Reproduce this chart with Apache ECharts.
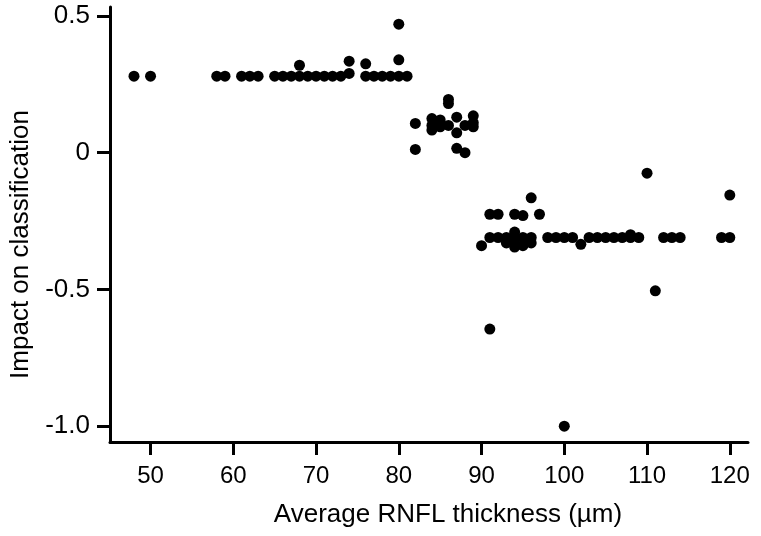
<!DOCTYPE html>
<html>
<head>
<meta charset="utf-8">
<script src="https://cdn.jsdelivr.net/npm/echarts@6/dist/echarts.min.js"></script>
<style>html,body{margin:0;padding:0;background:#fff}#c{width:761px;height:536px}</style>
</head>
<body>
<div id="c"></div>
<script>
// Average RNFL thickness (µm)
const thickness = [
  48, 50, 58, 59, 61, 62, 63, 65, 66, 67, 68, 68, 69, 70, 71, 72, 73, 74, 74,
  76, 76, 77, 78, 79, 80, 80, 80, 81,
  82, 82, 84, 84, 84, 85, 85, 86, 86, 86, 87, 87, 87, 88, 88, 89, 89, 89,
  90, 91, 91, 91, 92, 92, 93, 93, 94, 94, 94, 94, 94, 95, 95, 95, 96, 96, 96, 97,
  98, 99, 100, 100, 101, 102, 103, 104, 105, 106, 107, 108, 108, 109,
  110, 111, 112, 113, 114, 119, 120, 120
];
// Impact on classification
const impact = [
  0.28, 0.28, 0.28, 0.28, 0.28, 0.28, 0.28, 0.28, 0.28, 0.28, 0.28, 0.32, 0.28, 0.28, 0.28, 0.28, 0.28, 0.335, 0.29,
  0.28, 0.325, 0.28, 0.28, 0.28, 0.28, 0.34, 0.47, 0.28,
  0.107, 0.012, 0.125, 0.10, 0.083, 0.12, 0.095, 0.195, 0.18, 0.10, 0.13, 0.073, 0.016, 0.10, 0.0, 0.135, 0.11, 0.095,
  -0.34, -0.31, -0.225, -0.645, -0.31, -0.225, -0.31, -0.33, -0.29, -0.31, -0.33, -0.345, -0.225, -0.31, -0.34, -0.23, -0.31, -0.33, -0.165, -0.225,
  -0.31, -0.31, -0.31, -1.0, -0.31, -0.335, -0.31, -0.31, -0.31, -0.31, -0.31, -0.31, -0.30, -0.31,
  -0.075, -0.505, -0.31, -0.31, -0.31, -0.31, -0.31, -0.155
];
const xTicks = [50, 60, 70, 80, 90, 100, 110, 120];
const yTicks = [-1.0, -0.5, 0, 0.5];
const yTickLabels = ['-1.0', '-0.5', '0', '0.5'];

const points = thickness.map((x, i) => [x, impact[i]]);
const font = '"Liberation Sans", Arial, sans-serif';

const chart = echarts.init(document.getElementById('c'), null, {renderer: 'canvas'});
chart.setOption({
  animation: false,
  backgroundColor: '#fff',
  grid: {left: 110, right: 13, top: 7, bottom: 94, containLabel: false},
  xAxis: {
    type: 'value',
    min: 45.1, max: 122.2,
    name: 'Average RNFL thickness (µm)',
    nameLocation: 'middle',
    nameGap: 60,
    nameTextStyle: {color: '#000', fontSize: 26, fontFamily: font, verticalAlign: 'top', padding: [0, 0, 0, 38]},
    splitLine: {show: false},
    axisLine: {onZero: false, lineStyle: {color: '#000', width: 3}},
    axisTick: {show: true, customValues: xTicks, length: 13, inside: false, lineStyle: {color: '#000', width: 3}},
    axisLabel: {customValues: xTicks, color: '#000', fontSize: 24, fontFamily: font, margin: 22}
  },
  yAxis: {
    type: 'value',
    min: -1.058, max: 0.533,
    name: 'Impact on classification',
    nameLocation: 'middle',
    nameGap: 76,
    nameRotate: 90,
    nameTextStyle: {color: '#000', fontSize: 26, fontFamily: font, padding: [0, 40, 0, 0]},
    splitLine: {show: false},
    axisLine: {onZero: false, lineStyle: {color: '#000', width: 3}},
    axisTick: {show: true, customValues: yTicks, length: 13, inside: false, lineStyle: {color: '#000', width: 3}},
    axisLabel: {
      customValues: yTicks, color: '#000', fontSize: 26, fontFamily: font, margin: 20,
      formatter: v => { const i = yTicks.findIndex(t => Math.abs(t - v) < 1e-9); return i >= 0 ? yTickLabels[i] : ''; }
    }
  },
  series: [{
    type: 'scatter',
    data: points,
    symbol: 'circle',
    symbolSize: 11,
    itemStyle: {color: '#000', opacity: 1}
  }]
});
</script>
</body>
</html>
